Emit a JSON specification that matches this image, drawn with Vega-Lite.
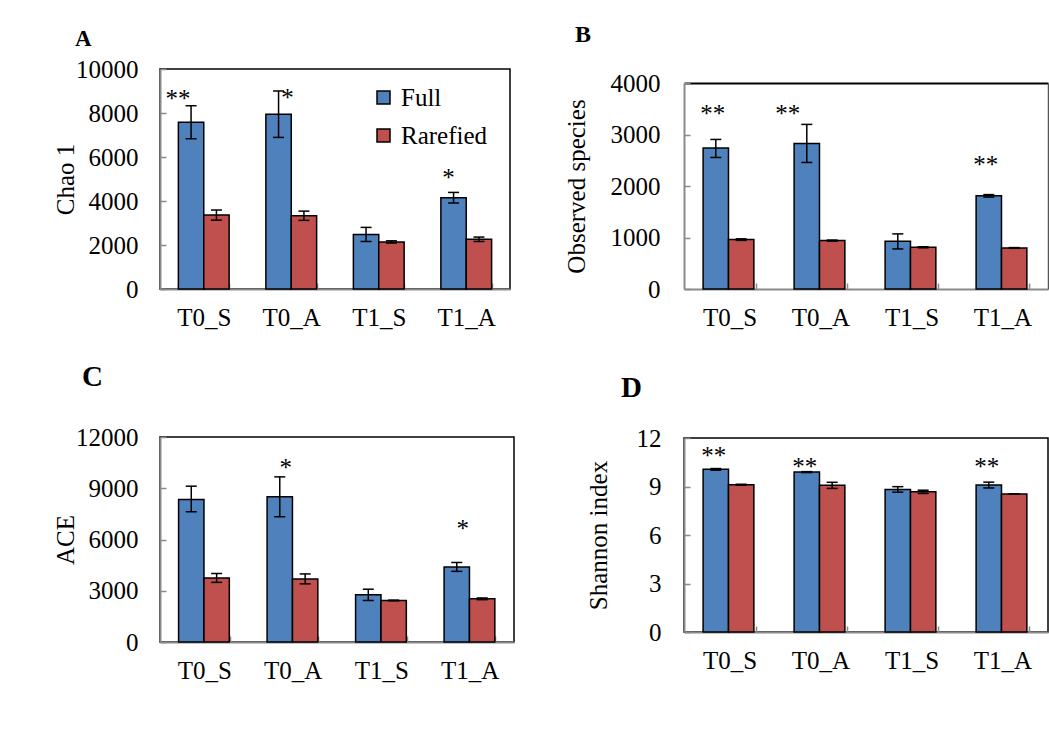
{
  "$schema": "https://vega.github.io/schema/vega-lite/v6.json",
  "padding": {"left": 52, "top": 23, "right": 0, "bottom": 0},
  "background": "white",
  "datasets": {
    "bars": [
      {"metric": "Chao 1", "group": "T0_S", "series": "Full", "value": 7580, "lo": 6830, "hi": 8330},
      {"metric": "Chao 1", "group": "T0_S", "series": "Rarefied", "value": 3360, "lo": 3130, "hi": 3590},
      {"metric": "Chao 1", "group": "T0_A", "series": "Full", "value": 7940, "lo": 6890, "hi": 9000},
      {"metric": "Chao 1", "group": "T0_A", "series": "Rarefied", "value": 3330, "lo": 3120, "hi": 3540},
      {"metric": "Chao 1", "group": "T1_S", "series": "Full", "value": 2480, "lo": 2160, "hi": 2800},
      {"metric": "Chao 1", "group": "T1_S", "series": "Rarefied", "value": 2140, "lo": 2090, "hi": 2190},
      {"metric": "Chao 1", "group": "T1_A", "series": "Full", "value": 4150, "lo": 3910, "hi": 4390},
      {"metric": "Chao 1", "group": "T1_A", "series": "Rarefied", "value": 2260, "lo": 2160, "hi": 2360},
      {"metric": "Observed species", "group": "T0_S", "series": "Full", "value": 2736, "lo": 2554, "hi": 2904},
      {"metric": "Observed species", "group": "T0_S", "series": "Rarefied", "value": 959, "lo": 944, "hi": 974},
      {"metric": "Observed species", "group": "T0_A", "series": "Full", "value": 2827, "lo": 2457, "hi": 3196},
      {"metric": "Observed species", "group": "T0_A", "series": "Rarefied", "value": 940, "lo": 930, "hi": 950},
      {"metric": "Observed species", "group": "T1_S", "series": "Full", "value": 927, "lo": 778, "hi": 1070},
      {"metric": "Observed species", "group": "T1_S", "series": "Rarefied", "value": 810, "lo": 800, "hi": 820},
      {"metric": "Observed species", "group": "T1_A", "series": "Full", "value": 1809, "lo": 1785, "hi": 1833},
      {"metric": "Observed species", "group": "T1_A", "series": "Rarefied", "value": 797, "lo": 790, "hi": 804},
      {"metric": "ACE", "group": "T0_S", "series": "Full", "value": 8343, "lo": 7624, "hi": 9121},
      {"metric": "ACE", "group": "T0_S", "series": "Rarefied", "value": 3753, "lo": 3490, "hi": 4010},
      {"metric": "ACE", "group": "T0_A", "series": "Full", "value": 8499, "lo": 7332, "hi": 9666},
      {"metric": "ACE", "group": "T0_A", "series": "Rarefied", "value": 3695, "lo": 3405, "hi": 3985},
      {"metric": "ACE", "group": "T1_S", "series": "Full", "value": 2762, "lo": 2430, "hi": 3090},
      {"metric": "ACE", "group": "T1_S", "series": "Rarefied", "value": 2431, "lo": 2411, "hi": 2451},
      {"metric": "ACE", "group": "T1_A", "series": "Full", "value": 4395, "lo": 4135, "hi": 4655},
      {"metric": "ACE", "group": "T1_A", "series": "Rarefied", "value": 2528, "lo": 2478, "hi": 2578},
      {"metric": "Shannon index", "group": "T0_S", "series": "Full", "value": 10.06, "lo": 10.01, "hi": 10.11},
      {"metric": "Shannon index", "group": "T0_S", "series": "Rarefied", "value": 9.11, "lo": 9.08, "hi": 9.14},
      {"metric": "Shannon index", "group": "T0_A", "series": "Full", "value": 9.89, "lo": 9.86, "hi": 9.92},
      {"metric": "Shannon index", "group": "T0_A", "series": "Rarefied", "value": 9.07, "lo": 8.88, "hi": 9.26},
      {"metric": "Shannon index", "group": "T1_S", "series": "Full", "value": 8.82, "lo": 8.65, "hi": 8.99},
      {"metric": "Shannon index", "group": "T1_S", "series": "Rarefied", "value": 8.67, "lo": 8.57, "hi": 8.77},
      {"metric": "Shannon index", "group": "T1_A", "series": "Full", "value": 9.09, "lo": 8.91, "hi": 9.27},
      {"metric": "Shannon index", "group": "T1_A", "series": "Rarefied", "value": 8.53, "lo": 8.52, "hi": 8.54}
    ],
    "stars": [
      {"metric": "Chao 1", "group": "T0_S", "series": "Full", "label": "**", "level": 8850},
      {"metric": "Chao 1", "group": "T0_A", "series": "Full", "label": "*", "level": 8890},
      {"metric": "Chao 1", "group": "T1_A", "series": "Full", "label": "*", "level": 5260},
      {"metric": "Observed species", "group": "T0_S", "series": "Full", "label": "**", "level": 3490},
      {"metric": "Observed species", "group": "T0_A", "series": "Full", "label": "**", "level": 3490},
      {"metric": "Observed species", "group": "T1_A", "series": "Full", "label": "**", "level": 2510},
      {"metric": "ACE", "group": "T0_A", "series": "Full", "label": "*", "level": 10500},
      {"metric": "ACE", "group": "T1_A", "series": "Full", "label": "*", "level": 6900},
      {"metric": "Shannon index", "group": "T0_S", "series": "Full", "label": "**", "level": 11.17},
      {"metric": "Shannon index", "group": "T0_A", "series": "Full", "label": "**", "level": 10.49},
      {"metric": "Shannon index", "group": "T1_A", "series": "Full", "label": "**", "level": 10.49}
    ]
  },
  "config": {
    "font": "Times New Roman, Liberation Serif, serif",
    "view": {"stroke": "black", "strokeWidth": 1.5},
    "text": {"font": "Times New Roman, Liberation Serif, serif"},
    "axis": {
      "labelFont": "Times New Roman, Liberation Serif, serif", "labelFontSize": 25, "labelColor": "black",
      "titleFont": "Times New Roman, Liberation Serif, serif", "titleFontSize": 25, "titleFontWeight": "normal", "titleColor": "black",
      "domainColor": "#8a8a8a", "domainWidth": 2, "tickColor": "#8a8a8a", "tickWidth": 1.5, "grid": false
    },
    "axisX": {"labelAngle": 0, "tickBand": "extent", "tickSize": -6, "labelPadding": 22},
    "axisY": {"tickSize": -6, "labelPadding": 28, "format": "d", "titlePadding": 4},
    "legend": {"labelFont": "Times New Roman, Liberation Serif, serif"},
    "title": {"font": "Times New Roman, Liberation Serif, serif", "fontWeight": "bold", "color": "black", "anchor": "start", "frame": "group", "baseline": "alphabetic"}
  },
  "spacing": 49,
  "resolve": {"scale": {"color": "independent", "y": "independent", "x": "independent"}, "legend": {"color": "independent"}},
  "hconcat": [
    {
      "spacing": 30,
      "resolve": {"scale": {"color": "independent", "y": "independent", "x": "independent"}, "legend": {"color": "independent"}},
      "vconcat": [
        {
          "width": 350, "height": 220,
          "title": {"text": "A", "fontSize": 23, "dx": -85, "offset": 6.4},
          "layer": [
            {"data": {"name": "bars"}, "transform": [{"filter": "datum.metric === 'Chao 1'"}],
             "mark": {"type": "bar", "stroke": "black", "strokeWidth": 1.5},
             "encoding": {
               "x": {"field": "group", "type": "nominal", "sort": ["T0_S", "T0_A", "T1_S", "T1_A"], "title": null, "scale": {"paddingInner": 0.42, "paddingOuter": 0.21}},
               "xOffset": {"field": "series", "type": "nominal", "sort": ["Full", "Rarefied"]},
               "y": {"field": "value", "type": "quantitative", "title": "Chao 1", "scale": {"domain": [0, 10000], "nice": false}, "axis": {"values": [0, 2000, 4000, 6000, 8000, 10000], "titlePadding": -3}},
               "color": {"field": "series", "type": "nominal", "scale": {"domain": ["Full", "Rarefied"], "range": ["#4F81BD", "#C0504D"]},
                 "legend": {"orient": "none", "legendX": 211, "legendY": 16, "title": null, "symbolType": "square", "symbolSize": 169, "symbolStrokeColor": "black", "symbolStrokeWidth": 1.5, "symbolOpacity": 1, "labelFontSize": 25, "labelColor": "black", "rowPadding": 12, "labelOffset": 5, "padding": 0}}
             }},
            {"data": {"name": "bars"}, "transform": [{"filter": "datum.metric === 'Chao 1'"}],
             "mark": {"type": "rule", "color": "black", "strokeWidth": 1.5},
             "encoding": {"x": {"field": "group", "type": "nominal", "sort": ["T0_S", "T0_A", "T1_S", "T1_A"]}, "xOffset": {"field": "series", "type": "nominal", "sort": ["Full", "Rarefied"]}, "y": {"field": "lo", "type": "quantitative"}, "y2": {"field": "hi"}}},
            {"data": {"name": "bars"}, "transform": [{"filter": "datum.metric === 'Chao 1'"}],
             "mark": {"type": "tick", "color": "black", "size": 11, "thickness": 1.5, "opacity": 1},
             "encoding": {"x": {"field": "group", "type": "nominal", "sort": ["T0_S", "T0_A", "T1_S", "T1_A"]}, "xOffset": {"field": "series", "type": "nominal", "sort": ["Full", "Rarefied"]}, "y": {"field": "lo", "type": "quantitative"}}},
            {"data": {"name": "bars"}, "transform": [{"filter": "datum.metric === 'Chao 1'"}],
             "mark": {"type": "tick", "color": "black", "size": 11, "thickness": 1.5, "opacity": 1},
             "encoding": {"x": {"field": "group", "type": "nominal", "sort": ["T0_S", "T0_A", "T1_S", "T1_A"]}, "xOffset": {"field": "series", "type": "nominal", "sort": ["Full", "Rarefied"]}, "y": {"field": "hi", "type": "quantitative"}}},
            {"data": {"name": "stars"}, "transform": [{"filter": "datum.metric === 'Chao 1' && datum.group === 'T0_S'"}],
             "mark": {"type": "text", "fontSize": 25, "color": "black", "baseline": "middle", "dy": 5, "dx": -13},
             "encoding": {"x": {"field": "group", "type": "nominal", "sort": ["T0_S", "T0_A", "T1_S", "T1_A"]}, "xOffset": {"field": "series", "type": "nominal", "sort": ["Full", "Rarefied"]}, "y": {"field": "level", "type": "quantitative"}, "text": {"field": "label"}}},
            {"data": {"name": "stars"}, "transform": [{"filter": "datum.metric === 'Chao 1' && datum.group === 'T0_A'"}],
             "mark": {"type": "text", "fontSize": 25, "color": "black", "baseline": "middle", "dy": 5, "dx": 9},
             "encoding": {"x": {"field": "group", "type": "nominal", "sort": ["T0_S", "T0_A", "T1_S", "T1_A"]}, "xOffset": {"field": "series", "type": "nominal", "sort": ["Full", "Rarefied"]}, "y": {"field": "level", "type": "quantitative"}, "text": {"field": "label"}}},
            {"data": {"name": "stars"}, "transform": [{"filter": "datum.metric === 'Chao 1' && datum.group === 'T1_A'"}],
             "mark": {"type": "text", "fontSize": 25, "color": "black", "baseline": "middle", "dy": 5, "dx": -5},
             "encoding": {"x": {"field": "group", "type": "nominal", "sort": ["T0_S", "T0_A", "T1_S", "T1_A"]}, "xOffset": {"field": "series", "type": "nominal", "sort": ["Full", "Rarefied"]}, "y": {"field": "level", "type": "quantitative"}, "text": {"field": "label"}}}
          ]
        },
        {
          "width": 354, "height": 205,
          "title": {"text": "C", "fontSize": 29, "dx": -78, "offset": 33.5},
          "layer": [
            {"data": {"name": "bars"}, "transform": [{"filter": "datum.metric === 'ACE'"}],
             "mark": {"type": "bar", "stroke": "black", "strokeWidth": 1.5},
             "encoding": {
               "x": {"field": "group", "type": "nominal", "sort": ["T0_S", "T0_A", "T1_S", "T1_A"], "title": null, "scale": {"paddingInner": 0.42, "paddingOuter": 0.21}},
               "xOffset": {"field": "series", "type": "nominal", "sort": ["Full", "Rarefied"]},
               "y": {"field": "value", "type": "quantitative", "title": "ACE", "scale": {"domain": [0, 12000], "nice": false}, "axis": {"values": [0, 3000, 6000, 9000, 12000], "titlePadding": -3, "labelPadding": 28}},
               "color": {"field": "series", "type": "nominal", "scale": {"domain": ["Full", "Rarefied"], "range": ["#4F81BD", "#C0504D"]}, "legend": null}
             }},
            {"data": {"name": "bars"}, "transform": [{"filter": "datum.metric === 'ACE'"}],
             "mark": {"type": "rule", "color": "black", "strokeWidth": 1.5},
             "encoding": {"x": {"field": "group", "type": "nominal", "sort": ["T0_S", "T0_A", "T1_S", "T1_A"]}, "xOffset": {"field": "series", "type": "nominal", "sort": ["Full", "Rarefied"]}, "y": {"field": "lo", "type": "quantitative"}, "y2": {"field": "hi"}}},
            {"data": {"name": "bars"}, "transform": [{"filter": "datum.metric === 'ACE'"}],
             "mark": {"type": "tick", "color": "black", "size": 11, "thickness": 1.5, "opacity": 1},
             "encoding": {"x": {"field": "group", "type": "nominal", "sort": ["T0_S", "T0_A", "T1_S", "T1_A"]}, "xOffset": {"field": "series", "type": "nominal", "sort": ["Full", "Rarefied"]}, "y": {"field": "lo", "type": "quantitative"}}},
            {"data": {"name": "bars"}, "transform": [{"filter": "datum.metric === 'ACE'"}],
             "mark": {"type": "tick", "color": "black", "size": 11, "thickness": 1.5, "opacity": 1},
             "encoding": {"x": {"field": "group", "type": "nominal", "sort": ["T0_S", "T0_A", "T1_S", "T1_A"]}, "xOffset": {"field": "series", "type": "nominal", "sort": ["Full", "Rarefied"]}, "y": {"field": "hi", "type": "quantitative"}}},
            {"data": {"name": "stars"}, "transform": [{"filter": "datum.metric === 'ACE'"}],
             "mark": {"type": "text", "fontSize": 25, "color": "black", "baseline": "middle", "dy": 5, "dx": 6},
             "encoding": {"x": {"field": "group", "type": "nominal", "sort": ["T0_S", "T0_A", "T1_S", "T1_A"]}, "xOffset": {"field": "series", "type": "nominal", "sort": ["Full", "Rarefied"]}, "y": {"field": "level", "type": "quantitative"}, "text": {"field": "label"}}}
          ]
        }
      ]
    },
    {
      "spacing": 43,
      "resolve": {"scale": {"color": "independent", "y": "independent", "x": "independent"}, "legend": {"color": "independent"}},
      "vconcat": [
        {
          "width": 364, "height": 220,
          "view": {"stroke": null},
          "title": {"text": "B", "fontSize": 24, "dx": -109, "offset": 22},
          "resolve": {"axis": {"x": "independent", "y": "independent"}},
          "layer": [
            {"data": {"name": "bars"}, "transform": [{"filter": "datum.metric === 'Observed species'"}],
             "mark": {"type": "bar", "stroke": "black", "strokeWidth": 1.5},
             "encoding": {
               "x": {"field": "group", "type": "nominal", "sort": ["T0_S", "T0_A", "T1_S", "T1_A"], "title": null, "scale": {"paddingInner": 0.42, "paddingOuter": 0.21}},
               "xOffset": {"field": "series", "type": "nominal", "sort": ["Full", "Rarefied"]},
               "y": {"field": "value", "type": "quantitative", "title": "Observed species", "scale": {"domain": [0, 4000], "nice": false, "range": [220, 14]}, "axis": {"values": [0, 1000, 2000, 3000, 4000], "titlePadding": 20.5, "labelPadding": 30}},
               "color": {"field": "series", "type": "nominal", "scale": {"domain": ["Full", "Rarefied"], "range": ["#4F81BD", "#C0504D"]}, "legend": null}
             }},
            {"data": {"name": "bars"}, "transform": [{"filter": "datum.metric === 'Observed species'"}],
             "mark": {"type": "rule", "color": "black", "strokeWidth": 1.5},
             "encoding": {
               "x": {"field": "group", "type": "nominal", "sort": ["T0_S", "T0_A", "T1_S", "T1_A"], "axis": {"orient": "top", "labels": false, "ticks": false, "title": null, "domainColor": "black", "domainWidth": 2, "offset": -14}},
               "xOffset": {"field": "series", "type": "nominal", "sort": ["Full", "Rarefied"]},
               "y": {"field": "lo", "type": "quantitative", "axis": {"orient": "right", "labels": false, "ticks": false, "title": null, "domainColor": "#555555", "domainWidth": 1.5}},
               "y2": {"field": "hi"}}},
            {"data": {"name": "bars"}, "transform": [{"filter": "datum.metric === 'Observed species'"}],
             "mark": {"type": "tick", "color": "black", "size": 11, "thickness": 1.5, "opacity": 1},
             "encoding": {"x": {"field": "group", "type": "nominal", "sort": ["T0_S", "T0_A", "T1_S", "T1_A"], "axis": null}, "xOffset": {"field": "series", "type": "nominal", "sort": ["Full", "Rarefied"]}, "y": {"field": "lo", "type": "quantitative", "axis": null}}},
            {"data": {"name": "bars"}, "transform": [{"filter": "datum.metric === 'Observed species'"}],
             "mark": {"type": "tick", "color": "black", "size": 11, "thickness": 1.5, "opacity": 1},
             "encoding": {"x": {"field": "group", "type": "nominal", "sort": ["T0_S", "T0_A", "T1_S", "T1_A"], "axis": null}, "xOffset": {"field": "series", "type": "nominal", "sort": ["Full", "Rarefied"]}, "y": {"field": "hi", "type": "quantitative", "axis": null}}},
            {"data": {"name": "stars"}, "transform": [{"filter": "datum.metric === 'Observed species' && datum.group !== 'T0_A'"}],
             "mark": {"type": "text", "fontSize": 25, "color": "black", "baseline": "middle", "dy": 5, "dx": -3},
             "encoding": {"x": {"field": "group", "type": "nominal", "sort": ["T0_S", "T0_A", "T1_S", "T1_A"], "axis": null}, "xOffset": {"field": "series", "type": "nominal", "sort": ["Full", "Rarefied"]}, "y": {"field": "level", "type": "quantitative", "axis": null}, "text": {"field": "label"}}},
            {"data": {"name": "stars"}, "transform": [{"filter": "datum.metric === 'Observed species' && datum.group === 'T0_A'"}],
             "mark": {"type": "text", "fontSize": 25, "color": "black", "baseline": "middle", "dy": 5, "dx": -19},
             "encoding": {"x": {"field": "group", "type": "nominal", "sort": ["T0_S", "T0_A", "T1_S", "T1_A"], "axis": null}, "xOffset": {"field": "series", "type": "nominal", "sort": ["Full", "Rarefied"]}, "y": {"field": "level", "type": "quantitative", "axis": null}, "text": {"field": "label"}}}
          ]
        },
        {
          "width": 364, "height": 194,
          "title": {"text": "D", "fontSize": 29, "dx": -63, "offset": 23},
          "layer": [
            {"data": {"name": "bars"}, "transform": [{"filter": "datum.metric === 'Shannon index'"}],
             "mark": {"type": "bar", "stroke": "black", "strokeWidth": 1.5},
             "encoding": {
               "x": {"field": "group", "type": "nominal", "sort": ["T0_S", "T0_A", "T1_S", "T1_A"], "title": null, "scale": {"paddingInner": 0.42, "paddingOuter": 0.21}},
               "xOffset": {"field": "series", "type": "nominal", "sort": ["Full", "Rarefied"]},
               "y": {"field": "value", "type": "quantitative", "title": "Shannon index", "scale": {"domain": [0, 12], "nice": false}, "axis": {"values": [0, 3, 6, 9, 12], "titlePadding": 24.5, "labelPadding": 29}},
               "color": {"field": "series", "type": "nominal", "scale": {"domain": ["Full", "Rarefied"], "range": ["#4F81BD", "#C0504D"]}, "legend": null}
             }},
            {"data": {"name": "bars"}, "transform": [{"filter": "datum.metric === 'Shannon index'"}],
             "mark": {"type": "rule", "color": "black", "strokeWidth": 1.5},
             "encoding": {"x": {"field": "group", "type": "nominal", "sort": ["T0_S", "T0_A", "T1_S", "T1_A"]}, "xOffset": {"field": "series", "type": "nominal", "sort": ["Full", "Rarefied"]}, "y": {"field": "lo", "type": "quantitative"}, "y2": {"field": "hi"}}},
            {"data": {"name": "bars"}, "transform": [{"filter": "datum.metric === 'Shannon index'"}],
             "mark": {"type": "tick", "color": "black", "size": 11, "thickness": 1.5, "opacity": 1},
             "encoding": {"x": {"field": "group", "type": "nominal", "sort": ["T0_S", "T0_A", "T1_S", "T1_A"]}, "xOffset": {"field": "series", "type": "nominal", "sort": ["Full", "Rarefied"]}, "y": {"field": "lo", "type": "quantitative"}}},
            {"data": {"name": "bars"}, "transform": [{"filter": "datum.metric === 'Shannon index'"}],
             "mark": {"type": "tick", "color": "black", "size": 11, "thickness": 1.5, "opacity": 1},
             "encoding": {"x": {"field": "group", "type": "nominal", "sort": ["T0_S", "T0_A", "T1_S", "T1_A"]}, "xOffset": {"field": "series", "type": "nominal", "sort": ["Full", "Rarefied"]}, "y": {"field": "hi", "type": "quantitative"}}},
            {"data": {"name": "stars"}, "transform": [{"filter": "datum.metric === 'Shannon index'"}],
             "mark": {"type": "text", "fontSize": 25, "color": "black", "baseline": "middle", "dy": 5, "dx": -2},
             "encoding": {"x": {"field": "group", "type": "nominal", "sort": ["T0_S", "T0_A", "T1_S", "T1_A"]}, "xOffset": {"field": "series", "type": "nominal", "sort": ["Full", "Rarefied"]}, "y": {"field": "level", "type": "quantitative"}, "text": {"field": "label"}}}
          ]
        }
      ]
    }
  ]
}
